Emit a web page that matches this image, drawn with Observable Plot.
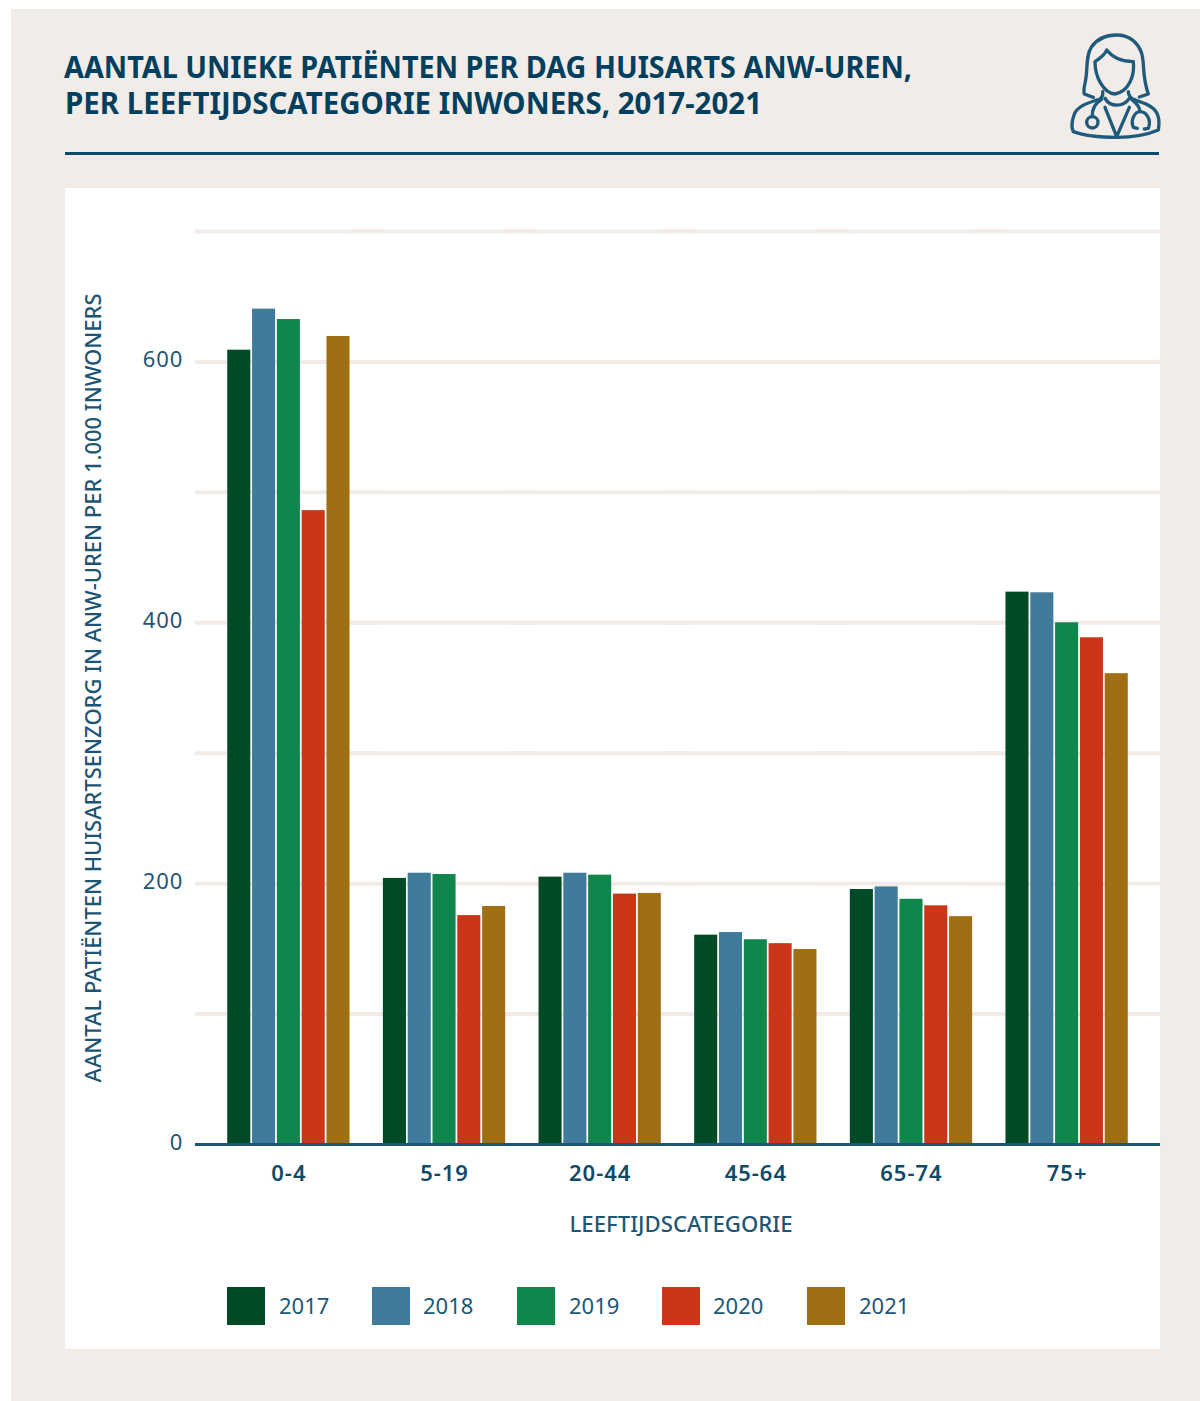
<!DOCTYPE html>
<html lang="nl">
<head>
<meta charset="utf-8">
<script src="https://cdn.jsdelivr.net/npm/d3@7"></script>
<script src="https://cdn.jsdelivr.net/npm/@observablehq/plot@0.6"></script>
<style>
  html, body { margin: 0; padding: 0; background: #fff; }
  #page { position: relative; width: 1200px; height: 1401px; overflow: hidden; font-family: "Noto Sans", sans-serif; }
  #bg { position: absolute; left: 11px; top: 9px; right: 0; bottom: 0; background: #f1ece8; }
  #panel { position: absolute; left: 65px; top: 188px; width: 1095px; height: 1161px; background: #fff; }
  #chart { position: absolute; left: 0; top: 0; }
  #title { position: absolute; left: 0; top: 0; }
  #rule { position: absolute; left: 65px; top: 152px; width: 1094px; height: 3px; background: #0f4a68; }
  #icon { position: absolute; left: 1050px; top: 20px; }
  .sw { position: absolute; top: 1099px; width: 38px; height: 38px; }
  .lb { position: absolute; top: 1099px; font-size: 22px; line-height: 36px; color: #1d5675; }
</style>
</head>
<body>
<div id="page">
  <div id="bg"></div>
  <svg id="title" width="1040" height="130">
    <text x="64" y="78" font-family="Noto Sans" font-weight="700" font-size="31" fill="#003f5e" textLength="848" lengthAdjust="spacingAndGlyphs">AANTAL UNIEKE PATIËNTEN PER DAG HUISARTS ANW-UREN,</text>
    <text x="65" y="114" font-family="Noto Sans" font-weight="700" font-size="31" fill="#003f5e" textLength="697" lengthAdjust="spacingAndGlyphs">PER LEEFTIJDSCATEGORIE INWONERS, 2017-2021</text>
  </svg>
  <svg id="icon" width="130" height="140" viewBox="0 0 390 420" fill="none" stroke="#1f5a7c" stroke-width="10" stroke-linecap="round" stroke-linejoin="round">
    <path d="M130 232 L103 222 C100 212 102 205 105 190 C115 150 105 110 125 80 C145 52 170 45 200 45 C240 45 265 70 275 100 C285 135 275 165 295 222 L268 231"/>
    <path d="M135 125 C150 115 165 105 170 90 C190 115 220 125 250 125 C255 170 235 215 195 222 C160 220 135 170 135 125Z"/>
    <path d="M158 215 C160 225 155 235 145 240 M165 235 C180 262 220 262 238 235 M235 215 C235 228 245 238 255 240"/>
    <path d="M140 240 C110 250 80 260 72 285 C65 305 65 325 70 335 C110 350 160 352 200 352 C250 352 290 345 325 330 C330 300 325 275 305 262 C290 250 270 245 255 240"/>
    <path d="M165 262 L200 350 L238 262"/>
    <path d="M155 238 C135 250 125 265 127 290"/>
    <circle cx="127" cy="307" r="17"/>
    <path d="M245 238 C260 250 270 260 270 275 M262 325 L250 322 C240 300 255 275 270 275 C290 275 305 300 295 325 L283 327"/>
  </svg>
  <div id="rule"></div>
  <div id="panel"><div id="chart"></div></div>
</div>
<script>
const ageGroups = ["0-4", "5-19", "20-44", "45-64", "65-74", "75+"];
const years = ["2017", "2018", "2019", "2020", "2021"];
const colors = ["#004a25", "#417b9b", "#0f864c", "#cb3618", "#a06e13"];
const values2017 = [609, 204, 205, 160.5, 195.5, 423.5];
const values2018 = [640.5, 208, 208, 162.5, 197.5, 423];
const values2019 = [632.5, 207, 206.5, 157, 188, 400];
const values2020 = [486, 175.5, 192, 154, 183, 388.5];
const values2021 = [619.5, 182.5, 192.5, 149.5, 174.7, 361];
const seriesByYear = [values2017, values2018, values2019, values2020, values2021];
const gridValues = [100, 200, 300, 400, 500, 600, 700];
const yTicks = [0, 200, 400, 600];
const yTitle = "AANTAL PATIËNTEN HUISARTSENZORG IN ANW-UREN PER 1.000 INWONERS";
const xTitle = "LEEFTIJDSCATEGORIE";

const rows = years.flatMap((year, i) =>
  ageGroups.map((age, j) => ({ age, year, value: seriesByYear[i][j] }))
);

const outerGap = 15.6; // the facets' outer padding: rules reach across it
const plot = Plot.plot({
  width: 1095,
  height: 1060,
  marginLeft: 130,
  marginRight: 0,
  marginTop: 43,
  marginBottom: 104,
  style: { fontFamily: "Noto Sans", background: "transparent", overflow: "visible" },
  fx: { domain: ageGroups, paddingInner: 0, paddingOuter: 0.1, round: false, label: null },
  x: { domain: years, paddingInner: 0.07, paddingOuter: 0.672, round: false, axis: null },
  y: { domain: [0, 700], label: null },
  color: { domain: years, range: colors },
  marks: [
    Plot.ruleY(gridValues, { stroke: "#f1ece8", strokeWidth: 4, insetLeft: -outerGap, insetRight: -outerGap }),
    Plot.barY(rows, { fx: "age", x: "year", y: "value", fill: "year" }),
    Plot.ruleY([0], { stroke: "#1b5573", strokeWidth: 3, insetLeft: -outerGap, insetRight: -outerGap }),
    Plot.axisY({ ticks: yTicks, tickSize: 0, tickPadding: 12 + outerGap, fontSize: 22, label: null, tickFormat: d => String(d), fill: "#1d5675", textAnchor: "end", dy: -2 }),
    Plot.axisFx({ anchor: "bottom", tickSize: 0, tickPadding: 21, fontSize: 22, fontWeight: 600, label: null, fill: "#0f4a68" }),
    Plot.text([xTitle], { text: d => d, frameAnchor: "bottom", dy: 87, dx: 3, fontSize: 21, fontWeight: 500, fill: "#1d5675", facet: "super" }),
    Plot.text([yTitle], { text: d => d, frameAnchor: "left", textAnchor: "middle", dx: -117, rotate: -90, fontSize: 21, fontWeight: 500, fill: "#1d5675", facet: "super" })
  ]
});
document.getElementById("chart").appendChild(plot);

const legendX = [162, 307, 452, 597, 742];
const labelX = [214, 358, 504, 648, 794];
const panel = document.getElementById("panel");
years.forEach((y, i) => {
  const s = document.createElement("div");
  s.className = "sw"; s.style.left = legendX[i] + "px"; s.style.background = colors[i];
  panel.appendChild(s);
  const t = document.createElement("div");
  t.className = "lb"; t.style.left = labelX[i] + "px"; t.textContent = y;
  panel.appendChild(t);
});

// fit the axis titles to the reference's text widths, and space out the tick labels
d3.select(plot).selectAll("text").each(function () {
  const txt = this.textContent;
  if (txt === yTitle) { this.setAttribute("textLength", 789); this.setAttribute("lengthAdjust", "spacingAndGlyphs"); }
  else if (txt === xTitle) { this.setAttribute("textLength", 223); this.setAttribute("lengthAdjust", "spacingAndGlyphs"); }
});
d3.select(plot).selectAll("g[aria-label='y-axis tick label'] text, g[aria-label='fx-axis tick label'] text")
  .style("letter-spacing", "1px");
</script>
</body>
</html>
